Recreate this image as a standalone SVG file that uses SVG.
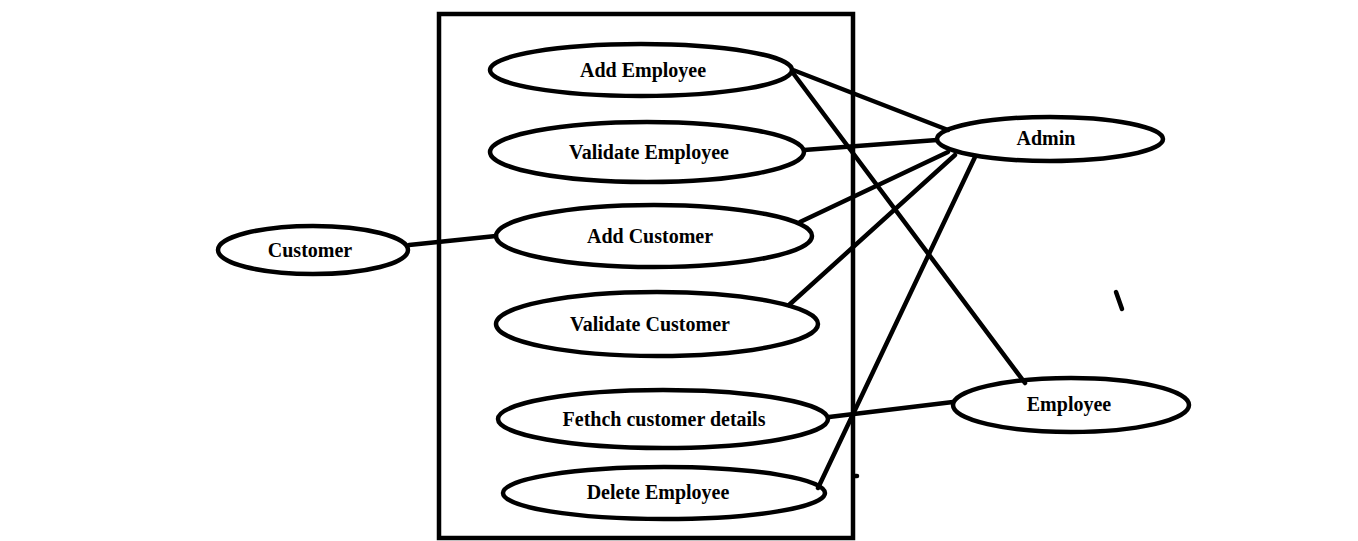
<svg xmlns="http://www.w3.org/2000/svg" width="1358" height="541" viewBox="0 0 1358 541">
<style>
.n{fill:#fff;stroke:#000;stroke-width:4.5}
.t{font-family:"Liberation Serif","DejaVu Serif",serif;font-weight:bold;font-size:20px;text-anchor:middle;fill:#000}
.c line{stroke:#000;stroke-width:4.5;stroke-linecap:round}
</style>
<rect width="1358" height="541" fill="#fff"/>
<rect id="system" x="439" y="14" width="414" height="524" fill="none" stroke="#000" stroke-width="4.5"/>
<g id="uc-add-employee"><ellipse class="n" cx="641" cy="70" rx="151" ry="26"/><text class="t" x="643" y="77">Add Employee</text></g>
<g id="uc-validate-employee"><ellipse class="n" cx="647" cy="152" rx="157" ry="30"/><text class="t" x="649" y="159">Validate Employee</text></g>
<g id="uc-add-customer"><ellipse class="n" cx="654" cy="236" rx="158" ry="31"/><text class="t" x="650" y="243">Add Customer</text></g>
<g id="uc-validate-customer"><ellipse class="n" cx="657" cy="324" rx="161" ry="32"/><text class="t" x="650" y="331">Validate Customer</text></g>
<g id="uc-fetch"><ellipse class="n" cx="663" cy="419" rx="165" ry="29"/><text class="t" x="664" y="426">Fethch customer details</text></g>
<g id="uc-delete-employee"><ellipse class="n" cx="664" cy="493" rx="161" ry="26"/><text class="t" x="658" y="499">Delete Employee</text></g>
<g id="actor-customer"><ellipse class="n" cx="313" cy="250" rx="95" ry="24"/><text class="t" x="310" y="257">Customer</text></g>
<g id="actor-admin"><ellipse class="n" cx="1050" cy="139" rx="113" ry="22"/><text class="t" x="1046" y="145">Admin</text></g>
<g id="actor-employee"><ellipse class="n" cx="1071" cy="405" rx="118" ry="27"/><text class="t" x="1069" y="411">Employee</text></g>
<g class="c" id="connectors">
<line x1="793" y1="70" x2="948" y2="130"/>
<line x1="793" y1="73" x2="1025" y2="383"/>
<line x1="804" y1="150" x2="937" y2="140"/>
<line x1="800" y1="222" x2="948" y2="152"/>
<line x1="789" y1="305" x2="955" y2="155"/>
<line x1="818" y1="488" x2="975" y2="157"/>
<line x1="829" y1="417" x2="953" y2="402"/>
<line x1="409" y1="245" x2="496" y2="236"/>
<line x1="1116" y1="292" x2="1122" y2="309"/>
<line x1="855" y1="476" x2="857" y2="476"/>
</g>
</svg>
